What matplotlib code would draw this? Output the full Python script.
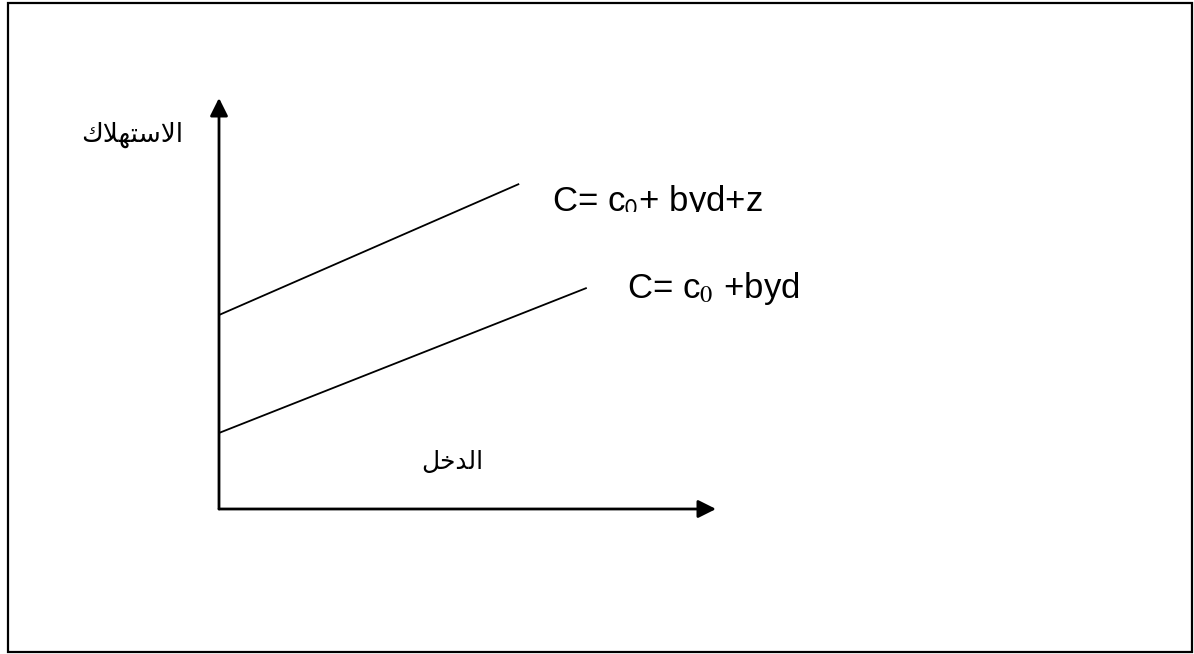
import matplotlib.pyplot as plt
from matplotlib.patches import Rectangle
from matplotlib.transforms import Bbox

plt.rcParams['font.family'] = ['Liberation Sans', 'DejaVu Sans']
plt.rcParams['mathtext.fontset'] = 'stix'

# consumption lines: start at the y axis (intercept) and end at x_end
line_names = ['C= c$_\\mathsf{0}$+ byd+z', 'C= c$_0$ +byd']
intercepts = [4.72, 1.85]
x_end = [6.04, 7.40]
y_end = [7.91, 5.38]
label_pos = [(6.70, 7.25), (8.21, 5.13)]

# arabic labels, already shaped and in visual order (matplotlib does no shaping)
ylabel_txt = '\uFED9\uFEFC\uFEEC\uFE98\uFEB3\uFEFB\uFE8D'   # الاستهلاك
xlabel_txt = '\uFEDE\uFEA7\uFEAA\uFEDF\uFE8D'               # الدخل

W, H = 1194, 654
fig = plt.figure(figsize=(W/100, H/100), dpi=100)

# outer frame
fig.patches.append(Rectangle((8/W, 2/H), 1184/W, 649/H, transform=fig.transFigure,
                             fill=False, lw=1.6, ec='black'))

ax = fig.add_axes([219/W, (H-509)/H, (716-219)/W, (509-98)/H])
ax.set_xlim(0, 10)
ax.set_ylim(0, 10)
ax.axis('off')

arrow = dict(arrowstyle='-|>,head_length=0.6,head_width=0.3', lw=2, color='black',
             mutation_scale=18, shrinkA=0, shrinkB=0)
ax.annotate('', xy=(10, 0), xytext=(0, 0), arrowprops=arrow, annotation_clip=False)
ax.annotate('', xy=(0, 10), xytext=(0, 0), arrowprops=arrow, annotation_clip=False)

for i in range(len(line_names)):
    ax.plot([0, x_end[i]], [intercepts[i], y_end[i]], color='black', lw=1.3,
            solid_capstyle='butt', clip_on=False)
    t = ax.text(label_pos[i][0], label_pos[i][1], line_names[i], fontsize=25,
                va='baseline', ha='left')
    if i == 0:
        # the upper equation is cut off just under its baseline
        t.set_clip_box(Bbox.from_extents(0, H-212, W, H))
        t.set_clip_on(True)

ax.text(-1.75, 9.1, ylabel_txt, fontsize=19, ha='center', va='center',
        family=['DejaVu Sans'])
ax.text(4.69, 1.15, xlabel_txt, fontsize=18, ha='center', va='center',
        family=['DejaVu Sans'])

fig.savefig('out.png', dpi=100)
